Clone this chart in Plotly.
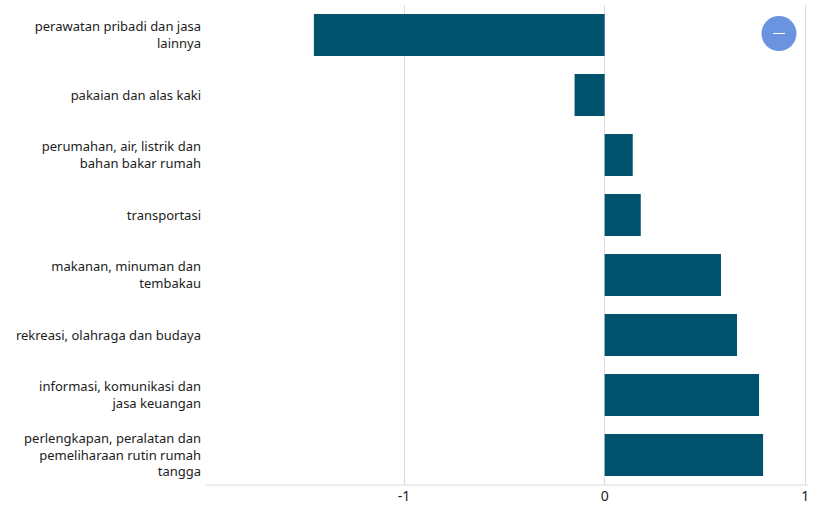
import plotly.graph_objects as go

categories = [
    "perawatan pribadi dan jasa<br>lainnya",
    "pakaian dan alas kaki",
    "perumahan, air, listrik dan<br>bahan bakar rumah",
    "transportasi",
    "makanan, minuman dan<br>tembakau",
    "rekreasi, olahraga dan budaya",
    "informasi, komunikasi dan<br>jasa keuangan",
    "perlengkapan, peralatan dan<br>pemeliharaan rutin rumah<br>tangga",
]
values = [-1.45, -0.15, 0.14, 0.18, 0.58, 0.66, 0.77, 0.79]
x_ticks = [-1, 0, 1]
bar_color = "#01526d"
grid_color = "#dcdcdc"
text_color = "#1c1c1c"
font_name = "Noto Sans"

fig = go.Figure(
    go.Bar(
        x=values,
        y=categories,
        orientation="h",
        width=0.7,
        marker=dict(color=bar_color, line=dict(width=0)),
        hoverinfo="x+y",
    )
)

fig.update_layout(
    width=828,
    height=512,
    margin=dict(l=206, r=20, t=5, b=27, pad=0),
    paper_bgcolor="white",
    plot_bgcolor="white",
    showlegend=False,
    font=dict(family=font_name, size=12, color=text_color),
    xaxis=dict(
        range=[-1.988, 1.014],
        tickmode="array",
        tickvals=x_ticks,
        ticktext=[str(t) for t in x_ticks],
        showgrid=True,
        gridcolor=grid_color,
        gridwidth=1,
        zeroline=True,
        zerolinecolor=grid_color,
        zerolinewidth=1,
        showline=False,
        ticks="",
        ticklabelstandoff=1,
        tickfont=dict(size=14),
    ),
    yaxis=dict(
        autorange="reversed",
        showgrid=False,
        zeroline=False,
        showline=False,
        ticks="",
        ticklabelstandoff=4,
        tickfont=dict(size=13),
    ),
    shapes=[
        # Baseline along the bottom of the plot area
        dict(type="line", xref="paper", yref="paper", x0=0, x1=1, y0=0, y1=0,
             line=dict(color=grid_color, width=1)),
        # Round collapse button in the top-right corner
        dict(type="circle", xref="paper", yref="paper", xanchor=0.9518, yanchor=0.9406,
             xsizemode="pixel", ysizemode="pixel", x0=-17.5, x1=17.5, y0=-17.5, y1=17.5,
             fillcolor="#6a93e0", line=dict(width=0), layer="above"),
        dict(type="line", xref="paper", yref="paper", xanchor=0.9518, yanchor=0.9406,
             xsizemode="pixel", ysizemode="pixel", x0=-6, x1=6, y0=0, y1=0,
             line=dict(color="white", width=1), layer="above"),
    ],
)

fig.write_html("out.html", config=dict(displayModeBar=False))
